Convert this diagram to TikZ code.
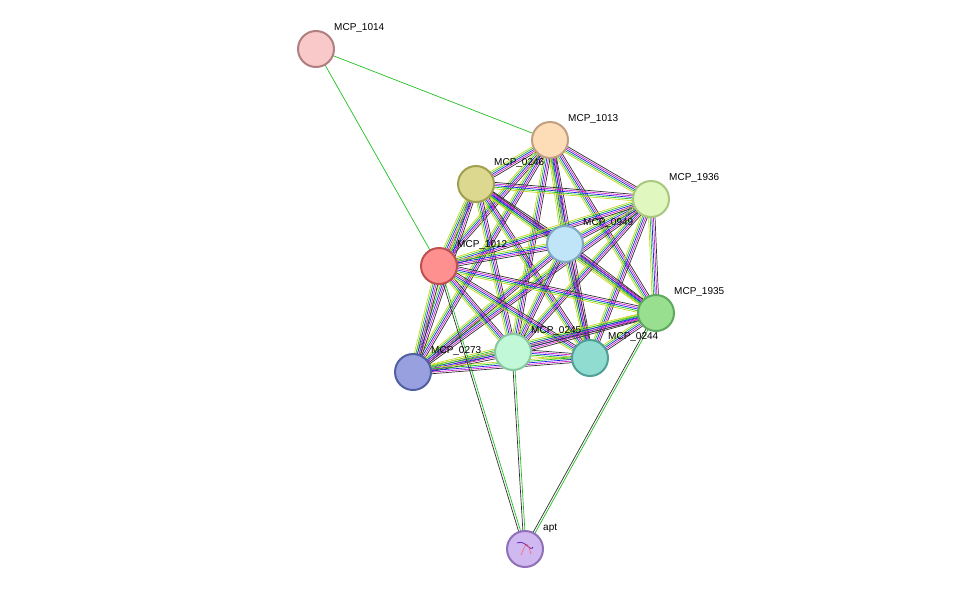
\documentclass[tikz,border=0pt]{standalone}
\usepackage{fontspec}
\setmainfont{Liberation Sans}
\usetikzlibrary{calc,backgrounds}
\definecolor{eg}{HTML}{22C022}
\definecolor{ey}{HTML}{C8D820}
\definecolor{eb}{HTML}{2020F0}
\definecolor{em}{HTML}{D020D0}
\definecolor{ek}{HTML}{303030}
\definecolor{er}{HTML}{E02020}
\tikzset{
 prot/.style={circle,draw,line width=2pt,minimum size=36pt,inner sep=0pt},
 lab/.style={anchor=west,font=\fontsize{10}{10}\selectfont,inner sep=0pt},
 ln/.style={line width=0.7pt}
}
\newcommand\multiedge[2]{%
 \foreach \o/\c in {-3.2/ey,-1.6/eg,0/eb,1.6/em,3.2/ek}{
  \draw[ln,\c] ($(#1.center)!\o pt!90:(#2.center)$) -- ($(#2.center)!\o pt!-90:(#1.center)$);}}
\newcommand\twoedge[2]{%
 \foreach \o/\c in {-1/eg,1/ek}{
  \draw[ln,\c] ($(#1.center)!\o pt!90:(#2.center)$) -- ($(#2.center)!\o pt!-90:(#1.center)$);}}
\begin{document}
\begin{tikzpicture}[x=1pt,y=-1pt]
\useasboundingbox (0,0) rectangle (976,595);
\foreach \n/\x/\y/\f/\d in {
 a1014/316/49/F9C8C8/B08080,
 a1013/550/140/FDDCB8/C0A080,
 a0246/476/184/DCD890/A0A050,
 a1936/651/199/E0F8C0/A8C880,
 a0949/565/244/C0E4F8/80A8C0,
 a1012/439/266/FF9090/C05050,
 a1935/656/313/98E090/60A860,
 a0245/513/352/C0F8D8/88C8A0,
 a0244/590/358/90DCD0/50A098,
 a0273/413/372/98A0E0/5060A0,
 apt/525/549/D0B8F0/9070B8}{
 \definecolor{f\n}{HTML}{\f}\definecolor{d\n}{HTML}{\d}
 \node[prot,fill=f\n,draw=d\n] (\n) at (\x,\y) {};
}
\foreach \n/\t in {a1014/MCP\_1014,a1013/MCP\_1013,a0246/MCP\_0246,a1936/MCP\_1936,a0949/MCP\_0949,a1012/MCP\_1012,a1935/MCP\_1935,a0245/MCP\_0245,a0244/MCP\_0244,a0273/MCP\_0273,apt/apt}
 \node[lab] (l\n) at ($(\n.center)+(18,-21)$) {\t};
\draw[blue!40!violet,line width=0.6pt] ($(apt.center)+(-8,-6)$) .. controls ($(apt.center)+(0,-10)$) and ($(apt.center)+(6,4)$) .. ($(apt.center)+(8,-2)$);
\draw[red!60,line width=0.6pt] ($(apt.center)+(-4,6)$) .. controls ($(apt.center)+(2,-8)$) .. ($(apt.center)+(6,5)$);
\begin{pgfonlayer}{background}
\path[fill=white] (0,0) rectangle (976,595);
\foreach \a/\b in {a1013/a0246,a1013/a1936,a1013/a0949,a1013/a1012,a1013/a1935,a1013/a0245,a1013/a0244,a1013/a0273,
 a0246/a1936,a0246/a0949,a0246/a1012,a0246/a1935,a0246/a0245,a0246/a0244,a0246/a0273,
 a1936/a0949,a1936/a1012,a1936/a1935,a1936/a0245,a1936/a0244,a1936/a0273,
 a0949/a1012,a0949/a1935,a0949/a0245,a0949/a0244,a0949/a0273,
 a1012/a1935,a1012/a0245,a1012/a0244,a1012/a0273,
 a1935/a0245,a1935/a0244,a1935/a0273,
 a0245/a0244,a0245/a0273,a0244/a0273}
 {\multiedge{\a}{\b}}
\draw[ln,eg] (a1014.center) -- (a1013.center);
\draw[ln,eg] (a1014.center) -- (a1012.center);
\twoedge{apt}{a1012}
\twoedge{apt}{a0245}
\twoedge{apt}{a1935}
\end{pgfonlayer}
\end{tikzpicture}
\end{document}
